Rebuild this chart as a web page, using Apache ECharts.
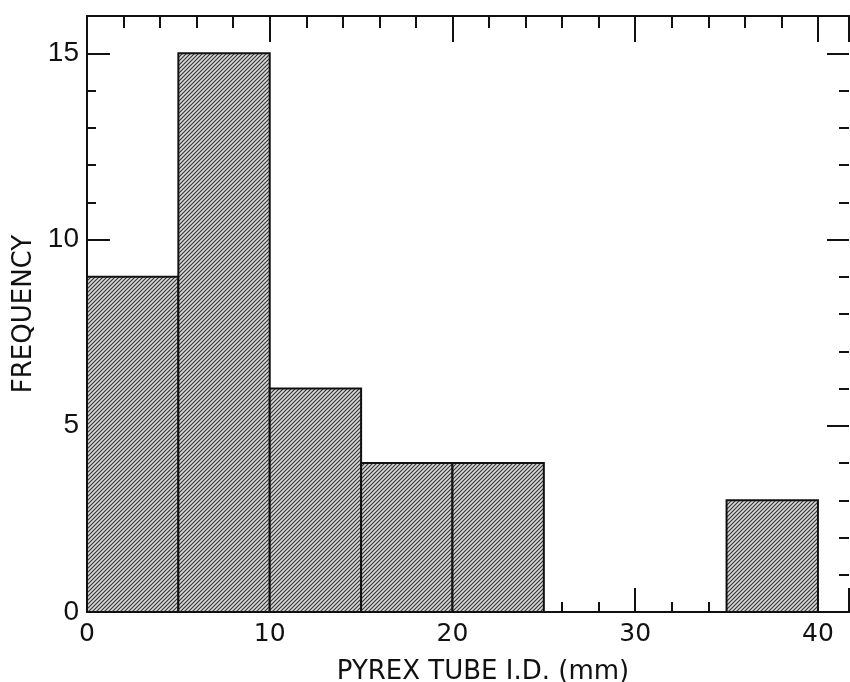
<!DOCTYPE html>
<html>
<head>
<meta charset="utf-8">
<script src="https://cdn.jsdelivr.net/npm/echarts@6/dist/echarts.min.js"></script>
<style>
  html, body { margin: 0; padding: 0; background: #fff; }
  #chart { width: 850px; height: 682px; }
</style>
</head>
<body>
<div id="chart"></div>
<script>
// histogram bins (mm) and counts
const binStart = [0, 5, 10, 15, 20, 25, 30, 35]
const binEnd = [5, 10, 15, 20, 25, 30, 35, 40]
const frequency = [9, 15, 6, 4, 4, 0, 0, 3]
const xTicks = [0, 10, 20, 30, 40]
const yTicks = [0, 5, 10, 15]

const ink = '#111'

// diagonal hatch fill
function hatch() {
  const c = document.createElement('canvas')
  c.width = 4
  c.height = 4
  const g = c.getContext('2d')
  g.fillStyle = '#d8d8d8'
  g.fillRect(0, 0, 4, 4)
  g.strokeStyle = '#333'
  g.lineWidth = 1.1
  g.beginPath()
  g.moveTo(-1, 5); g.lineTo(5, -1)
  g.moveTo(-1, 1); g.lineTo(1, -1)
  g.moveTo(3, 5); g.lineTo(5, 3)
  g.stroke()
  return { image: c, repeat: 'repeat' }
}
const fillPattern = hatch()

const chart = echarts.init(document.getElementById('chart'), null, { renderer: 'canvas' })

const data = binStart.map((s, i) => [s, binEnd[i], frequency[i]]).filter(d => d[2] > 0)

function ticks(len) {
  return { show: true, inside: true, length: len, lineStyle: { color: ink, width: 2 } }
}
function axisX(opts) {
  return Object.assign({
    type: 'value',
    min: 0,
    max: 41.7,
    axisLine: { show: true, onZero: false, lineStyle: { color: ink, width: 2 } },
    axisTick: ticks(24),
    axisLabel: { show: false },
    splitLine: { show: false }
  }, opts)
}
function axisY(opts) {
  return Object.assign({
    type: 'value',
    min: 0,
    max: 16,
    axisLine: { show: true, onZero: false, lineStyle: { color: ink, width: 2 } },
    axisTick: ticks(23),
    axisLabel: { show: false },
    splitLine: { show: false }
  }, opts)
}

chart.setOption({
  animation: false,
  backgroundColor: '#fff',
  grid: { left: 87, right: 1, top: 16, bottom: 70, outerBoundsMode: 'none', containLabel: false },
  xAxis: [
    axisX({
      position: 'bottom',
      interval: 10,
      name: 'PYREX TUBE I.D. (mm)',
      nameLocation: 'middle',
      nameGap: 47,
      nameTextStyle: { fontFamily: 'DejaVu Sans', fontSize: 26, color: ink, padding: [0, 0, 0, 30] },
      axisLabel: {
        show: true, margin: 10, fontFamily: 'DejaVu Sans', fontSize: 25, color: ink,
        formatter: v => xTicks.indexOf(v) >= 0 ? String(v) : ''
      }
    }),
    axisX({ position: 'bottom', interval: 2, axisTick: ticks(10) }),
    axisX({ position: 'top', interval: 10, axisTick: ticks(26) }),
    axisX({ position: 'top', interval: 2, axisTick: ticks(12) })
  ],
  yAxis: [
    axisY({
      position: 'left',
      interval: 5,
      name: 'FREQUENCY',
      nameLocation: 'middle',
      nameGap: 49,
      nameTextStyle: { fontFamily: 'DejaVu Sans', fontSize: 26, color: ink },
      axisLabel: {
        show: true, margin: 8, fontFamily: 'Liberation Sans', fontSize: 28, color: ink,
        formatter: v => yTicks.indexOf(v) >= 0 ? String(v) : ''
      }
    }),
    axisY({ position: 'left', interval: 1, axisTick: ticks(9) }),
    axisY({ position: 'right', interval: 5, axisLine: { show: false, onZero: false }, axisTick: ticks(22) }),
    axisY({ position: 'right', interval: 1, axisLine: { show: false, onZero: false }, axisTick: ticks(10) })
  ],
  series: [
    {
      type: 'custom',
      xAxisIndex: 0,
      yAxisIndex: 0,
      data: data,
      encode: { x: [0, 1], y: 2 },
      renderItem: function (params, api) {
        const p0 = api.coord([api.value(0), api.value(2)])
        const p1 = api.coord([api.value(1), 0])
        return {
          type: 'rect',
          shape: { x: p0[0], y: p0[1], width: p1[0] - p0[0], height: p1[1] - p0[1] },
          style: { fill: fillPattern, stroke: ink, lineWidth: 2 }
        }
      }
    }
  ]
})
</script>
</body>
</html>
